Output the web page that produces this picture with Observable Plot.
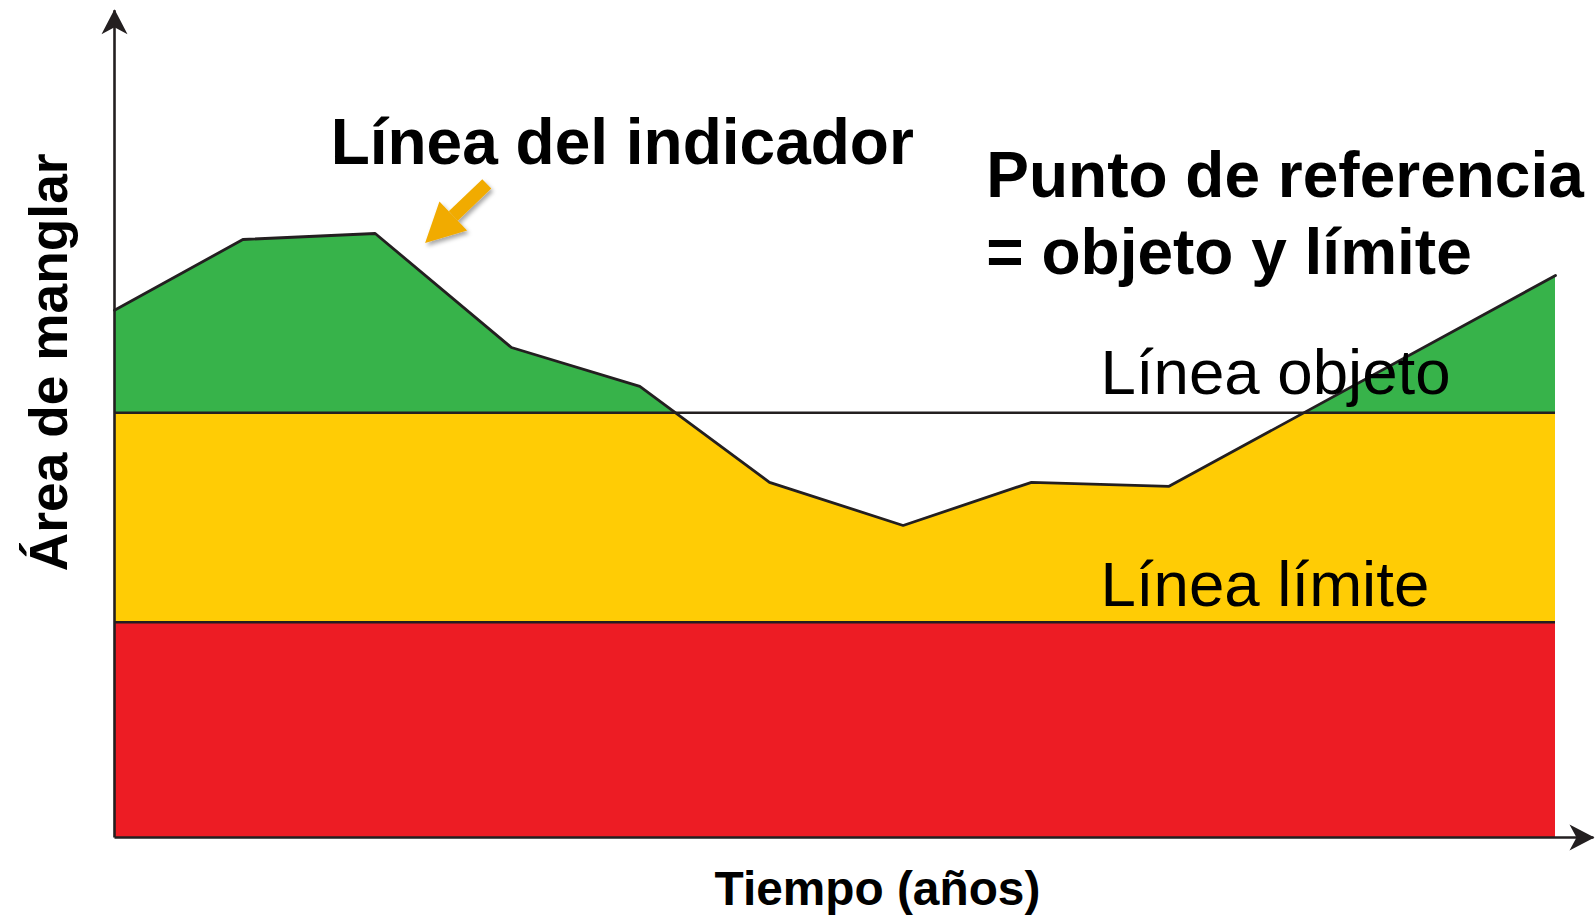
<!DOCTYPE html>
<html>
<head>
<meta charset="utf-8">
<script src="https://cdn.jsdelivr.net/npm/d3@7"></script>
<script src="https://cdn.jsdelivr.net/npm/@observablehq/plot@0.6"></script>
<style>
  html, body { margin: 0; padding: 0; background: #fff; }
  #chart svg { display: block; }
</style>
</head>
<body>
<div id="chart"></div>
<script>
// ---- data ----
const years = [0, 0.98, 1.99, 3.03, 4.01, 5.0, 6.02, 7.0, 8.05, 11];
const indicator = [65.9, 74.75, 75.5, 61.25, 56.4, 44.4, 39.0, 44.4, 43.9, 70.25];
const objective = 53.1;   // Línea objeto
const limit = 26.9;       // Línea límite
const xEnd = 11;          // end of the coloured band
const xAxisEnd = 11.29;   // x-axis arrow tip
const yAxisEnd = 103.4;   // y-axis arrow tip
const labels = {
  indicator: "Línea del indicador",
  ref1: "Punto de referencia",
  ref2: "= objeto y límite",
  objective: "Línea objeto",
  limit: "Línea límite",
  yTitle: "Área de manglar",
  xTitle: "Tiempo (años)"
};

const series = years.map((t, i) => ({t, v: indicator[i]}));

const GREEN = "#37b34a", YELLOW = "#ffcc05", RED = "#ed1c24", INK = "#231f20", ORANGE = "#f1ab00";
const FONT = "'Liberation Sans', Arial, Helvetica, sans-serif";

const axisArrows = [
  {x1: 0, y1: 0, x2: 0, y2: yAxisEnd},
  {x1: 0, y1: 0, x2: xAxisEnd, y2: 0}
];
const pointer = [{x1: 2.842, y1: 81.71, x2: 2.586, y2: 77.69}];

const svg = Plot.plot({
  width: 1596,
  height: 915,
  marginLeft: 114,
  marginRight: 41,
  marginTop: 37,
  marginBottom: 78,
  x: {domain: [0, xEnd], axis: null},
  y: {domain: [0, 100], axis: null},
  style: {background: "#fff", overflow: "visible"},
  marks: [
    Plot.areaY(series, {x: "t", y1: 0, y2: "v", fill: GREEN}),
    Plot.rect([0], {x1: 0, x2: xEnd, y1: limit, y2: objective, fill: YELLOW}),
    Plot.areaY(series, {x: "t", y1: "v", y2: 100, fill: "#fff"}),
    Plot.rect([0], {x1: 0, x2: xEnd, y1: 0, y2: limit, fill: RED}),
    Plot.ruleY([objective, limit], {x1: 0, x2: xEnd, stroke: INK, strokeWidth: 2.6}),
    Plot.line(series, {x: "t", y: "v", stroke: INK, strokeWidth: 2.8, strokeLinejoin: "miter"}),
    Plot.link(axisArrows, {x1: "x1", y1: "y1", x2: "x2", y2: "y2", stroke: INK, strokeWidth: 2.6}),
    Plot.link(pointer, {x1: "x1", y1: "y1", x2: "x2", y2: "y2", stroke: ORANGE, strokeWidth: 13}),
    Plot.text([labels.indicator], {x: 1.65, y: 84.25, text: d => d, textAnchor: "start", lineAnchor: "bottom",
      fontSize: 64, fontWeight: "bold", fontFamily: FONT, fill: "#000"}),
    Plot.text([labels.ref1], {x: 6.655, y: 80.1, text: d => d, textAnchor: "start", lineAnchor: "bottom",
      fontSize: 64, fontWeight: "bold", fontFamily: FONT, fill: "#000"}),
    Plot.text([labels.ref2], {x: 6.655, y: 70.5, text: d => d, textAnchor: "start", lineAnchor: "bottom",
      fontSize: 64, fontWeight: "bold", fontFamily: FONT, fill: "#000"}),
    Plot.text([labels.objective], {x: 7.527, y: 55.4, text: d => d, textAnchor: "start", lineAnchor: "bottom",
      fontSize: 63.6, fontFamily: FONT, fill: "#000"}),
    Plot.text([labels.limit], {x: 7.527, y: 29.0, text: d => d, textAnchor: "start", lineAnchor: "bottom",
      fontSize: 63.6, fontFamily: FONT, fill: "#000"}),
    Plot.text([labels.yTitle], {x: -0.359, y: 59.4, text: d => d, rotate: -90, textAnchor: "middle", lineAnchor: "bottom",
      fontSize: 53.3, fontWeight: "bold", fontFamily: FONT, fill: "#000"}),
    Plot.text([labels.xTitle], {x: 5.824, y: -8.375, text: d => d, textAnchor: "middle", lineAnchor: "bottom",
      fontSize: 47.8, fontWeight: "bold", fontFamily: FONT, fill: "#000"})
  ]
});

// custom filled arrowheads
const root = d3.select(svg);
const defs = root.insert("defs", ":first-child");
defs.append("marker")
  .attr("id", "axis-head").attr("markerUnits", "userSpaceOnUse")
  .attr("viewBox", "-26 -15 30 30").attr("markerWidth", 30).attr("markerHeight", 30)
  .attr("refX", 0).attr("refY", 0).attr("orient", "auto").attr("overflow", "visible")
  .append("path").attr("d", "M1,0 L-24,-13 L-17,0 L-24,13 Z").attr("fill", INK);
defs.append("marker")
  .attr("id", "pointer-head").attr("markerUnits", "userSpaceOnUse")
  .attr("viewBox", "0 -21 42 42").attr("markerWidth", 42).attr("markerHeight", 42)
  .attr("refX", 0).attr("refY", 0).attr("orient", "auto").attr("overflow", "visible")
  .append("path").attr("d", "M0,-20 L39,0 L0,20 Z").attr("fill", ORANGE);
defs.append("filter").attr("id", "soft-shadow")
  .attr("filterUnits", "userSpaceOnUse")
  .attr("x", 0).attr("y", 0).attr("width", 1596).attr("height", 915)
  .append("feDropShadow").attr("dx", 2).attr("dy", 3).attr("stdDeviation", 2.2)
  .attr("flood-color", "#000").attr("flood-opacity", 0.35);

root.selectAll('g[aria-label="link"]').each(function () {
  const g = d3.select(this);
  const s = (this.getAttribute("stroke") || "").toLowerCase();
  if (s === ORANGE) {
    g.attr("filter", "url(#soft-shadow)");
    g.selectAll("path").attr("marker-end", "url(#pointer-head)").attr("stroke-linecap", "butt");
  } else {
    g.selectAll("path").attr("marker-end", "url(#axis-head)");
  }
});

document.getElementById("chart").appendChild(svg);
</script>
</body>
</html>
